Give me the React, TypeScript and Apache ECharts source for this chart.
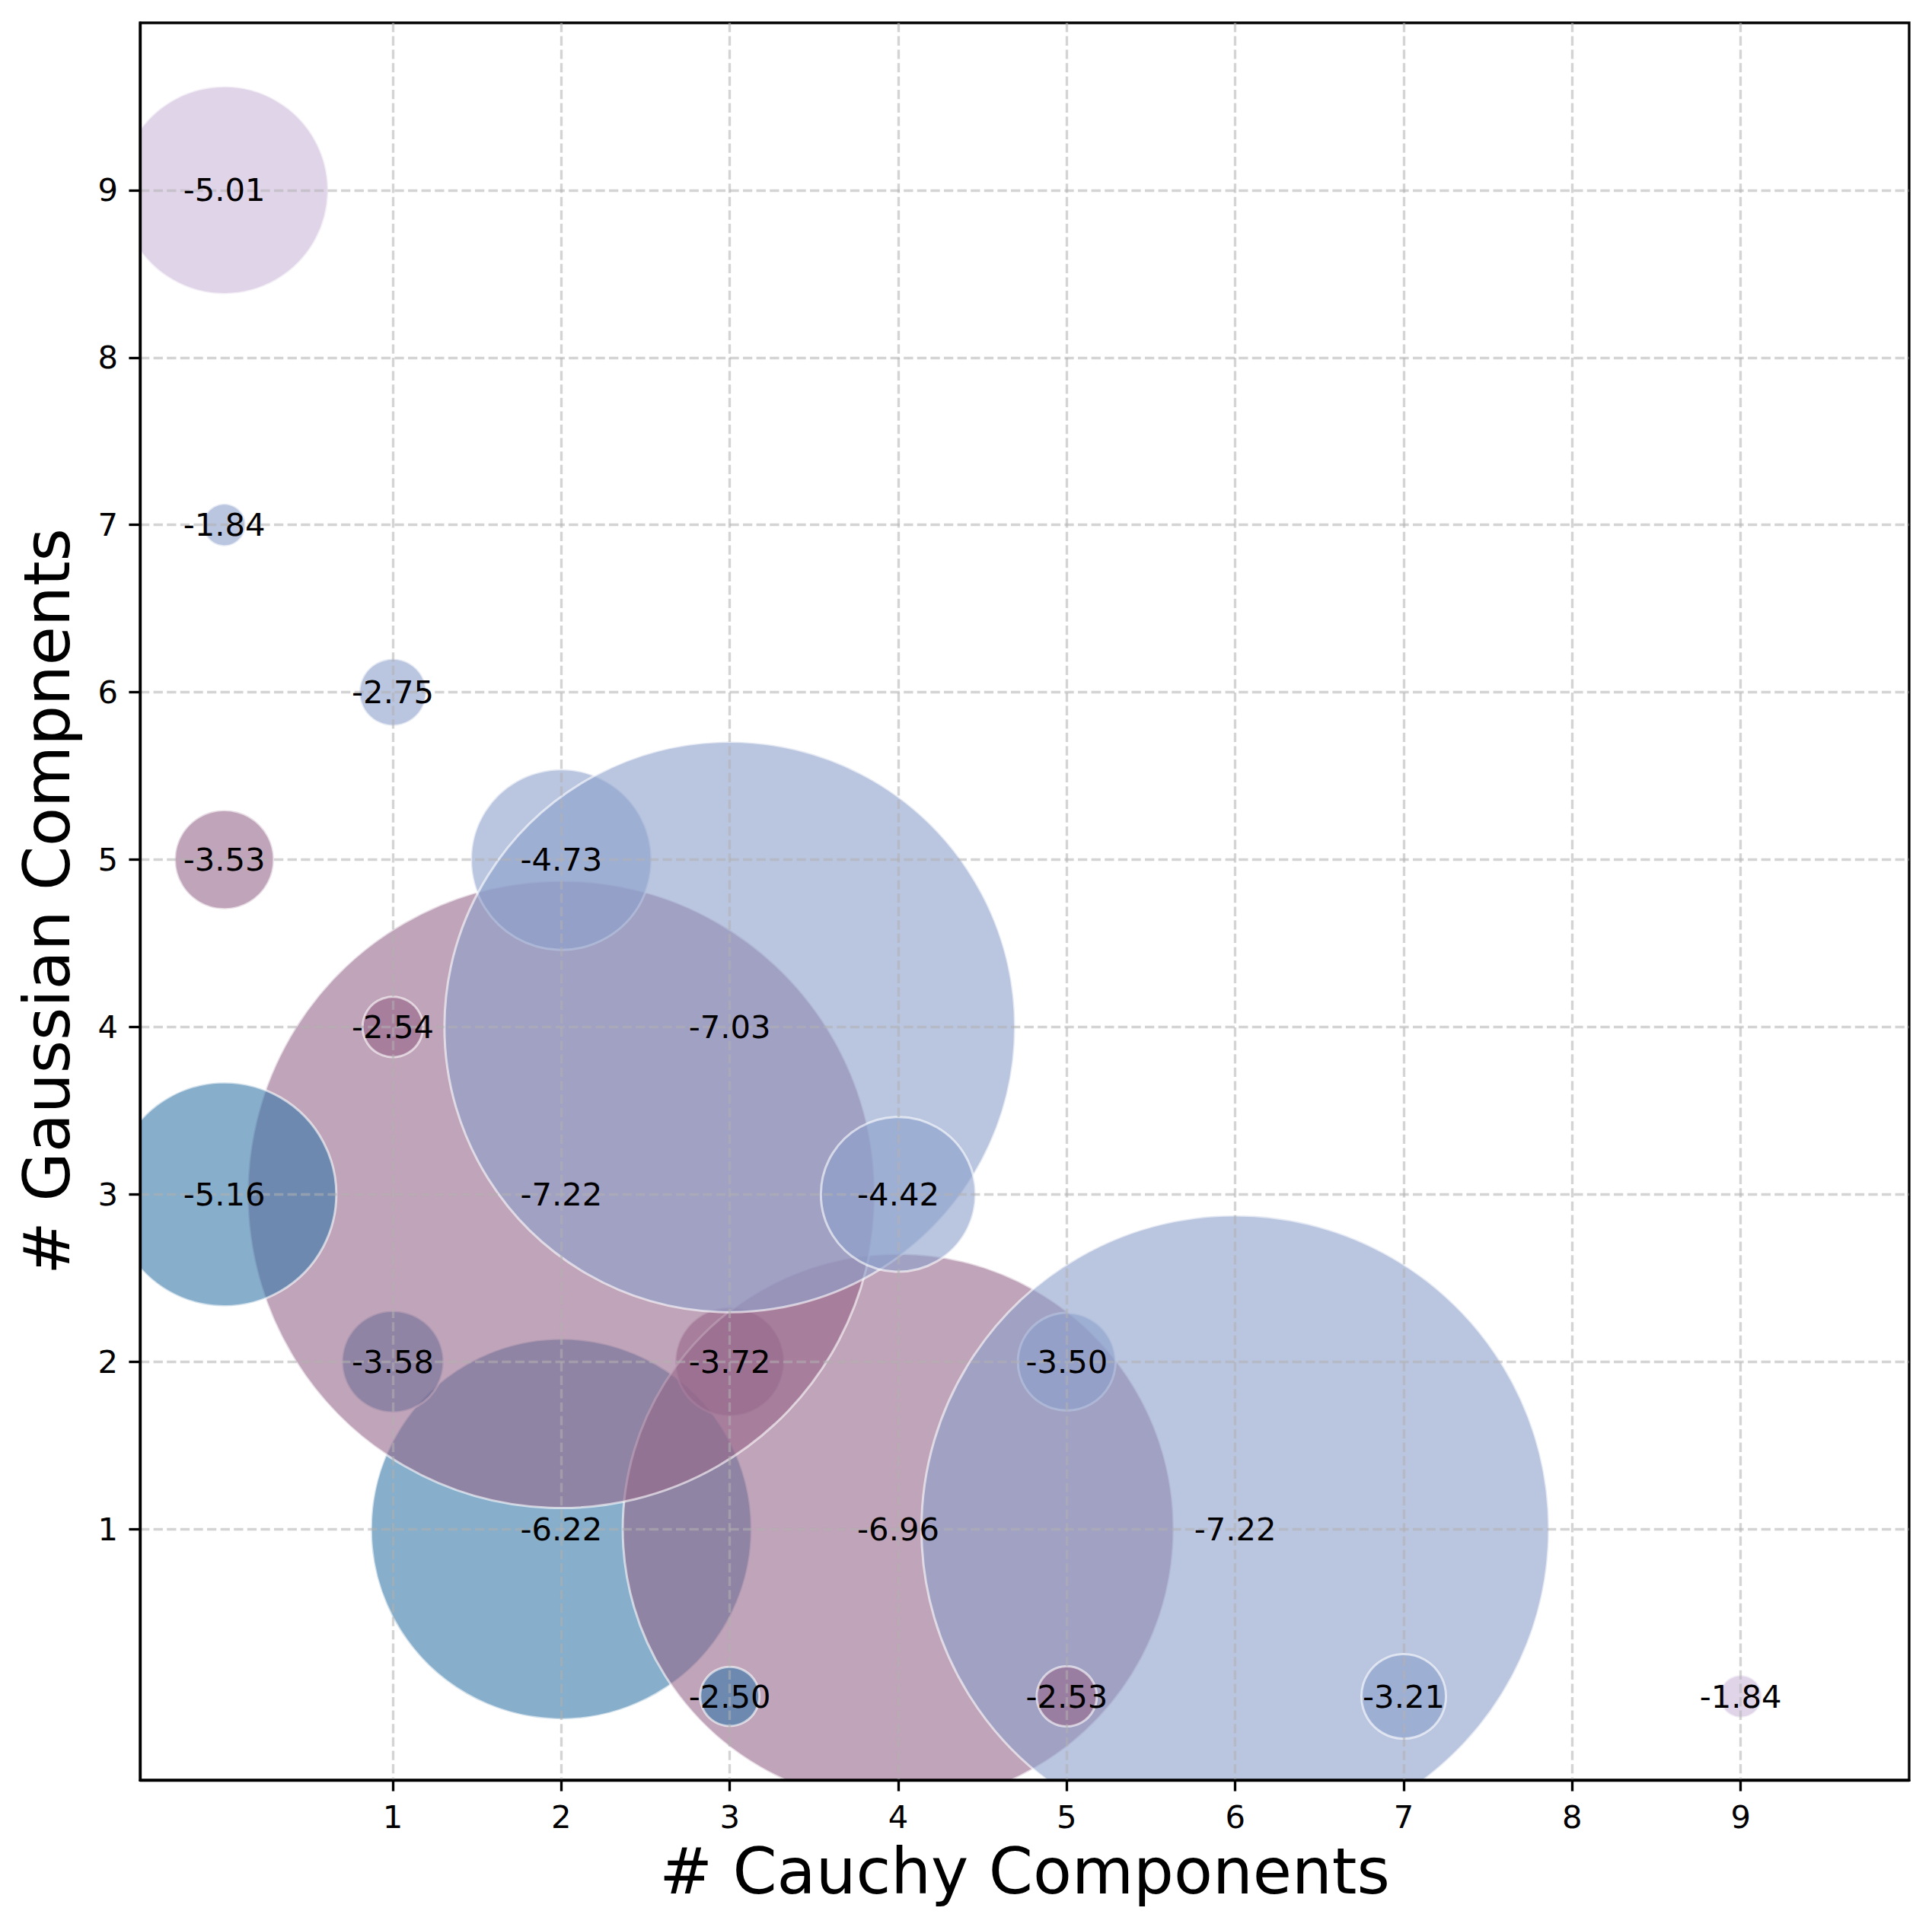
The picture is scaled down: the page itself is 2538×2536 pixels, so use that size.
import React, { useEffect, useRef } from "react";
import * as echarts from "echarts";

// Data (listed in drawing order, bottom to top)
const cauchyComponents = [2, 1, 3, 4, 3, 5, 6, 5, 7, 2, 0, 1, 2, 3, 4, 0, 1, 0, 0, 9];
const gaussianComponents = [1, 2, 2, 1, 0, 2, 1, 0, 0, 3, 3, 4, 5, 4, 3, 5, 6, 7, 9, 0];
const scores = [
  -6.22, -3.58, -3.72, -6.96, -2.5, -3.5, -7.22, -2.53, -3.21, -7.22,
  -5.16, -2.54, -4.73, -7.03, -4.42, -3.53, -2.75, -1.84, -5.01, -1.84,
];
const tickValues = [1, 2, 3, 4, 5, 6, 7, 8, 9];

// colour by total number of components
const totalColors: Record<number, string> = {
  3: "rgba(55,120,168,0.6)",
  5: "rgba(150,103,138,0.6)",
  7: "rgba(140,160,203,0.6)",
  9: "rgba(203,183,217,0.6)",
};

const FONT = "DejaVu Sans";
const SIZE_SCALE = 22.3;

const GRID_LEFT = 184;
const GRID_TOP = 30;
const GRID_W = 2324;
const GRID_H = 2309;

export default function App() {
  const ref = useRef<HTMLDivElement>(null);

  useEffect(() => {
    if (!ref.current) return;
    const chart = echarts.init(ref.current, undefined, { renderer: "svg" });

    const bubbleData = cauchyComponents.map((c, i) => ({
      value: [c, gaussianComponents[i], scores[i]],
      itemStyle: {
        color: totalColors[c + gaussianComponents[i]],
        borderColor: "rgba(255,255,255,0.6)",
        borderWidth: 3,
        opacity: 1,
      },
    }));
    const labelData = cauchyComponents.map((c, i) => [c, gaussianComponents[i], scores[i]]);

    const axisCommon = {
      type: "value" as const,
      min: -0.5,
      max: 10,
      z: 4,
      axisLine: { show: true, onZero: false, lineStyle: { color: "#000", width: 3.33 } },
      axisTick: {
        show: true,
        inside: false,
        length: 14.6,
        lineStyle: { color: "#000", width: 3.33 },
        customValues: tickValues,
      },
      splitLine: {
        show: true,
        lineStyle: { type: [12.3, 5.3], color: "rgba(176,176,176,0.55)", width: 3.33 },
      },
      nameLocation: "middle" as const,
      nameMoveOverlap: false,
      nameTextStyle: { fontSize: 83.3, color: "#000", fontFamily: FONT },
    };

    chart.setOption({
      animation: false,
      backgroundColor: "#ffffff",
      grid: {
        left: GRID_LEFT,
        top: GRID_TOP,
        width: GRID_W,
        height: GRID_H,
        containLabel: false,
        outerBoundsMode: "none",
        show: true,
        z: 4,
        borderColor: "#000",
        borderWidth: 3.33,
        backgroundColor: "transparent",
      },
      // white masks outside the plotting area (bubbles are clipped by the axes)
      graphic: {
        z: 3,
        elements: [
          {
            type: "rect",
            z: 3,
            silent: true,
            shape: { x: 0, y: GRID_TOP + GRID_H, width: 2538, height: 2536 - GRID_TOP - GRID_H },
            style: { fill: "#ffffff" },
          },
          {
            type: "rect",
            z: 3,
            silent: true,
            shape: { x: 0, y: 0, width: GRID_LEFT, height: GRID_TOP + GRID_H },
            style: { fill: "#ffffff" },
          },
        ],
      },
      xAxis: {
        ...axisCommon,
        name: "# Cauchy Components",
        nameGap: 79,
        axisLabel: {
          customValues: tickValues,
          fontSize: 41.7,
          color: "#000",
          fontFamily: FONT,
          margin: 27,
          formatter: (v: number) => String(v),
        },
      },
      yAxis: {
        ...axisCommon,
        name: "# Gaussian Compnents",
        nameGap: 80,
        nameRotate: 90,
        axisLabel: {
          customValues: tickValues,
          fontSize: 41.7,
          color: "#000",
          fontFamily: FONT,
          margin: 29,
          formatter: (v: number) => String(v),
        },
      },
      series: [
        {
          type: "scatter",
          z: 2,
          clip: true,
          silent: true,
          emphasis: { disabled: true },
          symbol: "circle",
          symbolSize: (val: number[]) => SIZE_SCALE * Math.exp(-val[2] / 2),
          itemStyle: { opacity: 1 },
          data: bubbleData,
        },
        {
          type: "scatter",
          z: 5,
          clip: true,
          silent: true,
          emphasis: { disabled: true },
          symbol: "circle",
          symbolSize: 1,
          itemStyle: { color: "rgba(0,0,0,0)", borderWidth: 0, opacity: 1 },
          label: {
            show: true,
            position: "inside",
            fontSize: 41.7,
            fontFamily: FONT,
            color: "#000",
            opacity: 1,
            formatter: (p: any) => (p.value[2] as number).toFixed(2),
          },
          data: labelData,
        },
      ],
    });

    return () => chart.dispose();
  }, []);

  return (
    <div
      ref={ref}
      style={{ position: "absolute", left: 0, top: 0, width: 2538, height: 2536 }}
    />
  );
}
